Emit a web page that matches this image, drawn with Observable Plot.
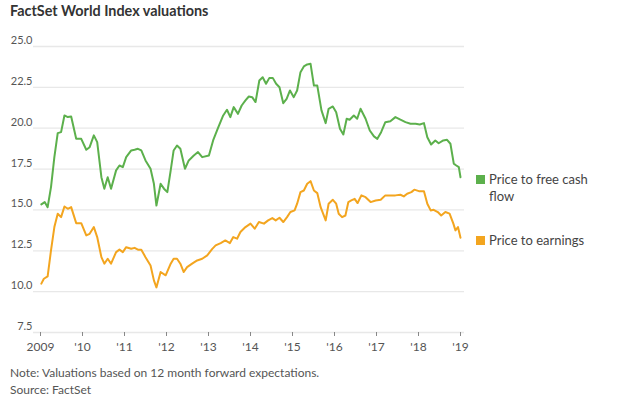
<!DOCTYPE html>
<html><head><meta charset="utf-8">
<script src="https://cdn.jsdelivr.net/npm/d3@7"></script>
<script src="https://cdn.jsdelivr.net/npm/@observablehq/plot@0.6"></script>
<style>
body{margin:0;background:#fff;font-family:Lato,"Noto Sans",sans-serif;}
#wrap{position:relative;width:624px;height:399px;overflow:hidden;}
#title{position:absolute;left:10px;top:2px;font-weight:700;font-size:14.4px;color:#333;}
#chart{position:absolute;left:0;top:24px;}
.note{position:absolute;left:10px;font-size:12px;color:#555;}
.leg{position:absolute;left:476px;font-size:13px;color:#444;line-height:17px;}
.leg span.sw{position:absolute;left:0;top:4px;width:9px;height:9px;}
.leg div.t{margin-left:13px;width:140px;}
</style></head>
<body><div id="wrap">
<div id="title">FactSet World Index valuations</div>
<div id="chart"></div>
<div class="leg" style="top:171px"><span class="sw" style="background:#5cb04c"></span><div class="t">Price to free cash<br>flow</div></div>
<div class="leg" style="top:232px"><span class="sw" style="background:#f3a51f"></span><div class="t">Price to earnings</div></div>
<div class="note" style="top:365px">Note: Valuations based on 12 month forward expectations.</div>
<div class="note" style="top:382px">Source: FactSet</div>
</div>
<script>
const seriesNames = ["Price to free cash flow", "Price to earnings"];
const colors = ["#5cb04c", "#f3a51f"];
const yTicks = [7.5, 10, 12.5, 15, 17.5, 20, 22.5, 25];
const xTicks = [2009, 2010, 2011, 2012, 2013, 2014, 2015, 2016, 2017, 2018, 2019];

const fcfTime = [2009.02,2009.10,2009.17,2009.25,2009.33,2009.41,2009.49,2009.57,2009.65,2009.73,2009.85,2009.97,2010.09,2010.17,2010.27,2010.35,2010.45,2010.52,2010.60,2010.68,2010.80,2010.88,2010.96,2011.04,2011.16,2011.24,2011.32,2011.40,2011.50,2011.62,2011.70,2011.76,2011.86,2011.94,2012.02,2012.10,2012.17,2012.25,2012.33,2012.44,2012.53,2012.65,2012.75,2012.85,2013.01,2013.11,2013.22,2013.35,2013.44,2013.52,2013.60,2013.70,2013.79,2013.88,2013.96,2014.04,2014.12,2014.21,2014.29,2014.37,2014.45,2014.53,2014.61,2014.69,2014.78,2014.86,2014.94,2015.03,2015.11,2015.19,2015.27,2015.35,2015.43,2015.51,2015.59,2015.69,2015.79,2015.86,2015.96,2016.04,2016.13,2016.21,2016.29,2016.36,2016.46,2016.54,2016.62,2016.74,2016.84,2016.94,2017.02,2017.11,2017.21,2017.33,2017.45,2017.57,2017.69,2017.81,2017.93,2018.03,2018.13,2018.21,2018.30,2018.40,2018.48,2018.59,2018.68,2018.76,2018.84,2018.90,2018.96,2019.00];
const fcfValue = [15.34,15.48,15.17,16.4,18.23,19.70,19.76,20.78,20.68,20.72,19.35,19.35,18.68,18.84,19.56,19.15,17.0,16.3,17.0,16.3,17.42,17.72,17.62,18.23,18.64,18.68,18.74,18.64,18.03,17.52,16.6,15.27,16.6,16.3,16.09,17.42,18.64,18.94,18.74,17.52,18.03,18.33,18.54,18.23,18.33,19.25,19.97,20.78,21.13,20.68,21.29,20.88,21.39,21.7,21.94,21.9,21.6,22.92,23.12,22.72,23.08,23.08,22.72,22.51,21.53,21.8,22.31,21.9,22.31,23.43,23.78,23.9,23.94,22.61,22.61,21.09,20.31,21.19,21.33,20.98,19.97,19.62,20.58,20.52,20.78,20.58,21.19,20.58,19.86,19.5,19.35,19.76,20.37,20.43,20.68,20.52,20.37,20.27,20.27,20.23,20.31,19.45,19.0,19.25,19.08,19.25,19.29,19.05,17.83,17.72,17.62,17.0];

const peTime = [2009.02,2009.08,2009.17,2009.25,2009.33,2009.41,2009.49,2009.57,2009.65,2009.73,2009.85,2009.97,2010.09,2010.17,2010.27,2010.35,2010.45,2010.52,2010.60,2010.68,2010.80,2010.88,2010.96,2011.04,2011.16,2011.24,2011.32,2011.40,2011.50,2011.62,2011.70,2011.76,2011.86,2011.98,2012.10,2012.17,2012.25,2012.33,2012.41,2012.49,2012.61,2012.73,2012.85,2012.97,2013.09,2013.17,2013.29,2013.40,2013.51,2013.59,2013.68,2013.76,2013.88,2014.00,2014.10,2014.20,2014.32,2014.42,2014.52,2014.60,2014.69,2014.78,2014.87,2014.95,2015.05,2015.11,2015.19,2015.27,2015.35,2015.43,2015.51,2015.59,2015.67,2015.79,2015.86,2015.96,2016.04,2016.10,2016.18,2016.26,2016.33,2016.40,2016.48,2016.55,2016.64,2016.74,2016.86,2016.98,2017.10,2017.21,2017.33,2017.45,2017.57,2017.65,2017.73,2017.83,2017.90,2018.01,2018.13,2018.21,2018.29,2018.36,2018.46,2018.54,2018.64,2018.74,2018.83,2018.88,2018.94,2019.00];
const peValue = [10.49,10.79,10.93,12.52,13.95,14.77,14.56,15.21,15.07,15.17,14.19,14.19,13.44,13.54,13.95,13.34,12.11,11.71,12.01,11.71,12.42,12.57,12.42,12.72,12.62,12.68,12.57,12.57,12.11,11.6,10.69,10.26,11.2,11.0,11.71,12.01,12.01,11.71,11.2,11.5,11.71,11.91,12.01,12.22,12.62,12.83,12.97,13.13,12.97,13.34,13.24,13.65,13.95,14.16,13.85,14.26,14.16,14.36,14.5,14.36,14.52,14.26,14.56,14.87,14.97,15.38,16.09,16.19,16.6,16.76,16.19,16.03,15.17,14.36,15.38,15.62,15.38,14.77,14.56,14.66,15.48,15.58,15.68,15.42,15.89,15.78,15.48,15.58,15.62,15.89,15.89,15.89,15.93,15.83,15.99,16.09,16.24,16.15,16.15,15.38,14.97,15.01,14.87,14.66,14.87,14.77,14.16,13.75,13.95,13.3];

const data = [
  ...fcfTime.map((t, i) => ({t, v: fcfValue[i], s: seriesNames[0]})),
  ...peTime.map((t, i) => ({t, v: peValue[i], s: seriesNames[1]}))
];

const chart = Plot.plot({
  width: 624,
  height: 340,
  marginLeft: 40,
  marginRight: 164,
  marginTop: 22,
  marginBottom: 32,
  style: {fontFamily: "Lato, 'Noto Sans', sans-serif", fontSize: "11px", color: "#555", background: "#fff"},
  x: {type: "linear", domain: [2009, 2019]},
  y: {domain: [7.5, 25]},
  color: {domain: seriesNames, range: colors},
  marks: [
    Plot.ruleY(yTicks, {stroke: "#e8e8e8", strokeWidth: 1.3, insetLeft: -7, insetRight: -4}),
    Plot.axisY({ticks: yTicks, tickSize: 0, tickPadding: 8, dy: -6, tickFormat: d => d.toFixed(1), label: null, fontSize: 11}),
    Plot.axisX({ticks: xTicks, tickSize: 4, tickPadding: 6, stroke: "#888", tickFormat: d => d === 2009 ? "2009" : "'" + String(d).slice(2), label: null, fontSize: 12}),
    Plot.line(data, {x: "t", y: "v", z: "s", stroke: "s", strokeWidth: 2, curve: "linear"})
  ]
});
document.getElementById("chart").appendChild(chart);
</script>
</body></html>
